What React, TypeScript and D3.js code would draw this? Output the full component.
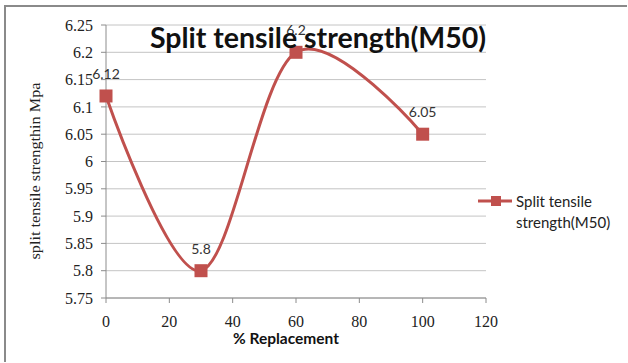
import React from "react";
import * as d3 from "d3";

const replacement = [0, 30, 60, 100];
const strength = [6.12, 5.8, 6.2, 6.05];
const yTicks = [5.75, 5.8, 5.85, 5.9, 5.95, 6, 6.05, 6.1, 6.15, 6.2, 6.25];
const xTicks = [0, 20, 40, 60, 80, 100, 120];
const seriesName = ["Split tensile", "strength(M50)"];
const title = "Split tensile strength(M50)";
const xTitle = "% Replacement";
const yTitle = "split tensile strengthin Mpa";

const W = 628;
const H = 363;
const plot = { left: 106, right: 486, top: 25, bottom: 298 };
const red = "#C0504D";
const sans = "Lato, 'Open Sans', sans-serif";
const serif = "Liberation Serif, Times New Roman, DejaVu Serif, serif";

export default function App() {
  const x = d3.scaleLinear().domain([0, 120]).range([plot.left, plot.right]);
  const y = d3.scaleLinear().domain([5.75, 6.25]).range([plot.bottom, plot.top]);
  const pts: [number, number][] = replacement.map((r, i) => [r, strength[i]]);
  const line = d3
    .line<[number, number]>()
    .x((d) => x(d[0]))
    .y((d) => y(d[1]))
    .curve(d3.curveCardinal.tension(0));

  return (
    <svg
      width={W}
      height={H}
      style={{ position: "absolute", left: 0, top: 0, background: "#fff" }}
    >
      {/* chart frame */}
      <path d="M5,362 L5,6 L627,6" fill="none" stroke="#8a8a8a" strokeWidth={2} />
      {/* gridlines */}
      {yTicks.map((t) => (
        <line
          key={t}
          x1={plot.left}
          x2={plot.right}
          y1={y(t)}
          y2={y(t)}
          stroke="#c4c4c4"
          strokeWidth={1}
        />
      ))}
      {/* axes */}
      <line x1={plot.left} x2={plot.left} y1={plot.top} y2={plot.bottom} stroke="#8c8c8c" />
      <line x1={plot.left} x2={plot.right} y1={plot.bottom} y2={plot.bottom} stroke="#8c8c8c" />
      {yTicks.map((t) => (
        <g key={"y" + t}>
          <line x1={plot.left - 5} x2={plot.left} y1={y(t)} y2={y(t)} stroke="#8c8c8c" />
          <text
            x={plot.left - 13}
            y={y(t)}
            dy="0.35em"
            textAnchor="end"
            style={{ fontFamily: serif, fontSize: 16 }}
            fill="#222"
          >
            {String(t)}
          </text>
        </g>
      ))}
      {xTicks.map((t) => (
        <g key={"x" + t}>
          <line x1={x(t)} x2={x(t)} y1={plot.bottom} y2={plot.bottom + 5} stroke="#8c8c8c" />
          <text
            x={x(t)}
            y={plot.bottom + 29}
            textAnchor="middle"
            style={{ fontFamily: serif, fontSize: 16 }}
            fill="#222"
          >
            {t}
          </text>
        </g>
      ))}
      {/* axis titles */}
      <text
        x={286}
        y={344}
        textAnchor="middle"
        style={{ fontFamily: sans, fontWeight: "bold", fontSize: 15.5 }}
        fill="#111"
      >
        {xTitle}
      </text>
      <text
        transform="translate(40,171) rotate(-90)"
        textAnchor="middle"
        style={{ fontFamily: serif, fontSize: 14 }}
        textLength={177}
        lengthAdjust="spacingAndGlyphs"
        fill="#222"
      >
        {yTitle}
      </text>
      {/* series */}
      <path d={line(pts) ?? ""} fill="none" stroke={red} strokeWidth={3} />
      {pts.map((p, i) => (
        <rect
          key={i}
          x={x(p[0]) - 6.5}
          y={y(p[1]) - 6.5}
          width={13}
          height={13}
          fill={red}
        />
      ))}
      {pts.map((p, i) => (
        <text
          key={"l" + i}
          x={x(p[0])}
          y={y(p[1]) - 17}
          textAnchor="middle"
          style={{ fontFamily: sans, fontSize: 14 }}
          fill="#333"
        >
          {String(p[1])}
        </text>
      ))}
      {/* title */}
      <text
        x={318}
        y={48}
        textAnchor="middle"
        style={{ fontFamily: sans, fontWeight: "bold", fontSize: 28.5 }}
        fill="#111"
      >
        {title}
      </text>
      {/* legend */}
      <line x1={478} x2={512} y1={201} y2={201} stroke={red} strokeWidth={3} />
      <rect x={491} y={196} width={10} height={10} fill={red} />
      <text x={516} y={207} style={{ fontFamily: sans, fontSize: 15 }} fill="#222">
        {seriesName[0]}
      </text>
      <text x={516} y={228} style={{ fontFamily: sans, fontSize: 15 }} fill="#222">
        {seriesName[1]}
      </text>
    </svg>
  );
}
